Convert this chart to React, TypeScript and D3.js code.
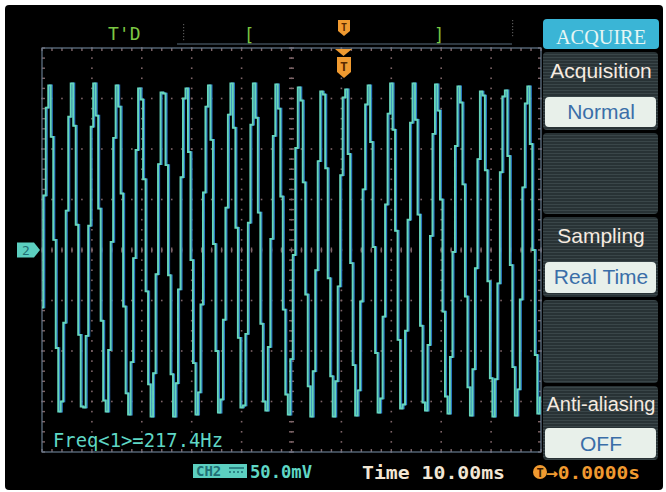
import React from "react";
import * as d3 from "d3";

const W = 666;
const H = 492;

// CH2 samples in mV, one every SAMPLE_MS
const SAMPLE_MS = 0.5;
const ch2mV = [
  -57, 54, 141, 163, 112, 10, -97, -160, -150, -72,
  39, 132, 165, 123, 25, -84, -155, -156, -85, 24,
  122, 165, 133, 41, -70, -149, -160, -99, 8, 111,
  163, 142, 56, -56, -142, -163, -111, -8, 99, 160,
  149, 70, -41, -133, -165, -122, -24, 85, 156, 155,
  84, -25, -123, -165, -132, -39, 72, 150, 160, 97,
  -10, -112, -163, -141, -54, 57, 142, 163, 109, 6,
  -100, -161, -148, -69, 42, 134, 165, 121, 22, -87,
  -156, -154, -83, 27, 124, 165, 131, 37, -73, -150,
  -159, -96, 11, 113, 164, 140, 53, -59, -143, -163,
  -108, -5, 101, 161, 148, 67, -44, -135, -165, -120,
  -20, 88, 157, 154, 81, -28, -125, -165, -130, -36,
  74, 151, 159, 95, -13, -114, -164, -139, -51, 60,
  144, 163, 107, 3, -102, -161, -147, -66, 45, 135,
  165, 119, 19, -89, -157, -153, -80, 30, 126, 165,
  129, 35, -75, -151, -159, -94, 14, 115, 164, 138,
  50, -61, -145, -162, -106, -2, 103, 162, 146, 65,
  -46, -136, -164, -118, -18, 90, 157, 153, 79, -31,
  -127, -165, -128, -33, 77, 152, 158, 93, -15, -116,
  -164, -138, -49, 62, 145, 162, 105, 0, -104, -162,
  -146,
];

const timeSpanMs = [0, 100];
const voltSpanMv = [-200, 200];
const timeDivMs = 10;
const voltDivMv = 50;

const menuTitle = "ACQUIRE";
const menuLabels = ["Acquisition", "", "Sampling", "", "Anti-aliasing"];
const menuValues = ["Normal", "", "Real Time", "", "OFF"];

const freqText = "Freq<1>=217.4Hz";
const voltText = "50.0mV";
const timeText = "Time 10.00ms";
const trigText = "\u21920.0000s";

const L = 42, R = 541, T = 48, B = 452;
const mono = "'DejaVu Sans Mono', monospace";
const sans = "'Liberation Sans', Arial, sans-serif";

export default function App() {
  const x = d3.scaleLinear().domain(timeSpanMs).range([L, R]);
  const y = d3.scaleLinear().domain(voltSpanMv).range([B, T]);
  const cx = x(50);
  const cy = y(0);

  const xGrid = d3.range(timeSpanMs[0], timeSpanMs[1] + 1, timeDivMs);
  const yGrid = d3.range(voltSpanMv[0], voltSpanMv[1] + 1, voltDivMv);
  const xMinor = d3.range(timeSpanMs[0], timeSpanMs[1] + 0.1, 2);
  const yMinor = d3.range(voltSpanMv[0], voltSpanMv[1] + 0.1, 10);

  const line = d3
    .line<number>()
    .x((_, i) => x(i * SAMPLE_MS))
    .y((d) => y(d))
    .curve(d3.curveStep);
  const path = line(ch2mV) || "";

  const dotColor = "#7e6468";
  const frameColor = "#667a8e";

  const panels = [
    [52, 130],
    [133, 214],
    [217, 297],
    [300, 383],
    [386, 460],
  ];

  return (
    <svg
      width={W}
      height={H}
      style={{ position: "absolute", left: 0, top: 0, background: "#fff" }}
    >
      <defs>
        <pattern id="scan" width="4" height="3" patternUnits="userSpaceOnUse">
          <rect width="4" height="3" fill="#283235" />
          <rect width="4" height="1" fill="#3a4649" />
        </pattern>
        <clipPath id="plot">
          <rect x={L} y={T - 30} width={R - L} height={B - T + 40} />
        </clipPath>
      </defs>
      <rect x={5} y={5} width={658} height={485} rx={4} fill="#000" />

      {/* grid dots */}
      <g fill={dotColor}>
        {xGrid.slice(1, -1).map((t) =>
          yMinor.map((v) => (
            <rect key={`v${t}_${v}`} x={x(t) - 0.8} y={y(v) - 0.8} width={1.6} height={1.6} />
          ))
        )}
        {yGrid.slice(1, -1).map((v) =>
          xMinor.map((t) => (
            <rect key={`h${t}_${v}`} x={x(t) - 0.8} y={y(v) - 0.8} width={1.6} height={1.6} />
          ))
        )}
        {/* centre line ticks */}
        {yMinor.map((v) => (
          <rect key={`cv${v}`} x={cx - 2.5} y={y(v) - 0.7} width={5} height={1.4} />
        ))}
        {xMinor.map((t) => (
          <rect key={`ch${t}`} x={x(t) - 0.7} y={cy - 2.5} width={1.4} height={5} />
        ))}
        {/* frame ticks */}
        {xMinor.map((t) => (
          <g key={`ft${t}`}>
            <rect x={x(t) - 0.7} y={T} width={1.4} height={3} />
            <rect x={x(t) - 0.7} y={B - 3} width={1.4} height={3} />
          </g>
        ))}
        {yMinor.map((v) => (
          <g key={`fl${v}`}>
            <rect x={L} y={y(v) - 0.7} width={3} height={1.4} />
            <rect x={R - 3} y={y(v) - 0.7} width={3} height={1.4} />
          </g>
        ))}
      </g>
      <rect x={L} y={T} width={R - L} height={B - T} fill="none" stroke={frameColor} strokeWidth={1.2} />

      {/* trace */}
      <g clipPath="url(#plot)">
        <path d={path} transform="translate(1.3,0)" fill="none" stroke="#2a74c0" strokeWidth={1.6} />
        <path d={path} fill="none" stroke="#66d6bb" strokeWidth={1.9} />
      </g>

      {/* top status line */}
      <text x={108} y={40} fill="#7cc843" fontFamily={mono} fontSize={18}>T'D</text>
      <line x1={177} x2={512} y1={44} y2={44} stroke="#3c4a55" strokeWidth={1.5} />
      <g fill="#555">
        {d3.range(24, 42, 3).map((yy) => (
          <g key={yy}>
            <rect x={183} y={yy} width={1.2} height={1.2} />
            <rect x={512} y={yy - 4} width={1.2} height={1.2} />
          </g>
        ))}
      </g>
      <text x={244} y={41} fill="#7cc843" fontFamily={mono} fontSize={17}>[</text>
      <text x={434} y={41} fill="#7cc843" fontFamily={mono} fontSize={17}>]</text>
      <path d="M338,20 h12 v11 l-6,5 l-6,-5 z" fill="#f09a30" />
      <text x={344} y={31} textAnchor="middle" fill="#5a2a00" fontFamily={mono} fontSize={10} fontWeight="bold">T</text>
      <path d="M335,49 h17 l-8.5,7 z" fill="#f09a30" />
      <path d="M337,57 h14 v15 l-7,6 l-7,-6 z" fill="#f09a30" />
      <text x={344} y={71} textAnchor="middle" fill="#5a2a00" fontFamily={mono} fontSize={13} fontWeight="bold">T</text>

      {/* channel marker */}
      <path d={`M17,${cy - 7.5} h17 l6,7.5 l-6,7.5 h-17 z`} fill="#5ccfc0" />
      <text x={26} y={cy + 5} textAnchor="middle" fill="#1f6e74" fontFamily={mono} fontSize={13}>2</text>

      <text x={53} y={447} textLength={170} lengthAdjust="spacingAndGlyphs" fill="#5fd7c5" fontFamily={mono} fontSize={19}>{freqText}</text>

      {/* right menu */}
      <rect x={543} y={19} width={116} height={30} rx={4} fill="#3ab5d6" />
      <text x={601} y={44} textAnchor="middle" textLength={90} lengthAdjust="spacingAndGlyphs" fill="#e6f6f4" fontFamily="'Liberation Serif', serif" fontSize={22}>{menuTitle}</text>
      {panels.map(([y0, y1], i) => (
        <g key={i}>
          <rect x={543} y={y0} width={115} height={y1 - y0} rx={4} fill="url(#scan)" />
        </g>
      ))}
      <text x={601} y={78} textAnchor="middle" fill="#f6ebe0" fontFamily={sans} fontSize={21}>{menuLabels[0]}</text>
      <text x={601} y={243} textAnchor="middle" fill="#f6ebe0" fontFamily={sans} fontSize={21}>{menuLabels[2]}</text>
      <text x={601} y={411} textAnchor="middle" fill="#f6ebe0" fontFamily={sans} fontSize={20}>{menuLabels[4]}</text>
      {[
        [97, 127, menuValues[0], 119],
        [262, 293, menuValues[2], 284],
        [428, 458, menuValues[4], 451],
      ].map(([y0, y1, label, by]) => (
        <g key={label as string}>
          <rect x={545} y={y0 as number} width={111} height={(y1 as number) - (y0 as number)} rx={4} fill="#e8f0ea" />
          <text x={601} y={by as number} textAnchor="middle" fill="#3a6ea8" fontFamily={sans} fontSize={21}>{label}</text>
        </g>
      ))}

      {/* bottom status */}
      <rect x={193} y={464} width={54} height={14} fill="#5ccfc0" />
      <text x={196} y={476} fill="#1f6e74" fontFamily={mono} fontSize={14} fontWeight="bold">CH2</text>
      <line x1={229} x2={244} y1={468} y2={468} stroke="#1f6e74" strokeWidth={1.5} />
      <line x1={229} x2={244} y1={472} y2={472} stroke="#1f6e74" strokeWidth={1.5} strokeDasharray="2,2" />
      <text x={250} y={478} textLength={62} lengthAdjust="spacingAndGlyphs" fill="#5fd7c5" fontFamily={mono} fontSize={17} fontWeight="bold">{voltText}</text>
      <text x={362} y={479} textLength={143} lengthAdjust="spacingAndGlyphs" fill="#f2e6d4" fontFamily={mono} fontSize={17} fontWeight="bold">{timeText}</text>
      <circle cx={540} cy={472} r={7} fill="#f09a30" />
      <text x={540} y={477} textAnchor="middle" fill="#3a1a00" fontFamily={mono} fontSize={12} fontWeight="bold">T</text>
      <text x={546} y={479} textLength={94} lengthAdjust="spacingAndGlyphs" fill="#f09a30" fontFamily={mono} fontSize={17} fontWeight="bold">{trigText}</text>
    </svg>
  );
}
